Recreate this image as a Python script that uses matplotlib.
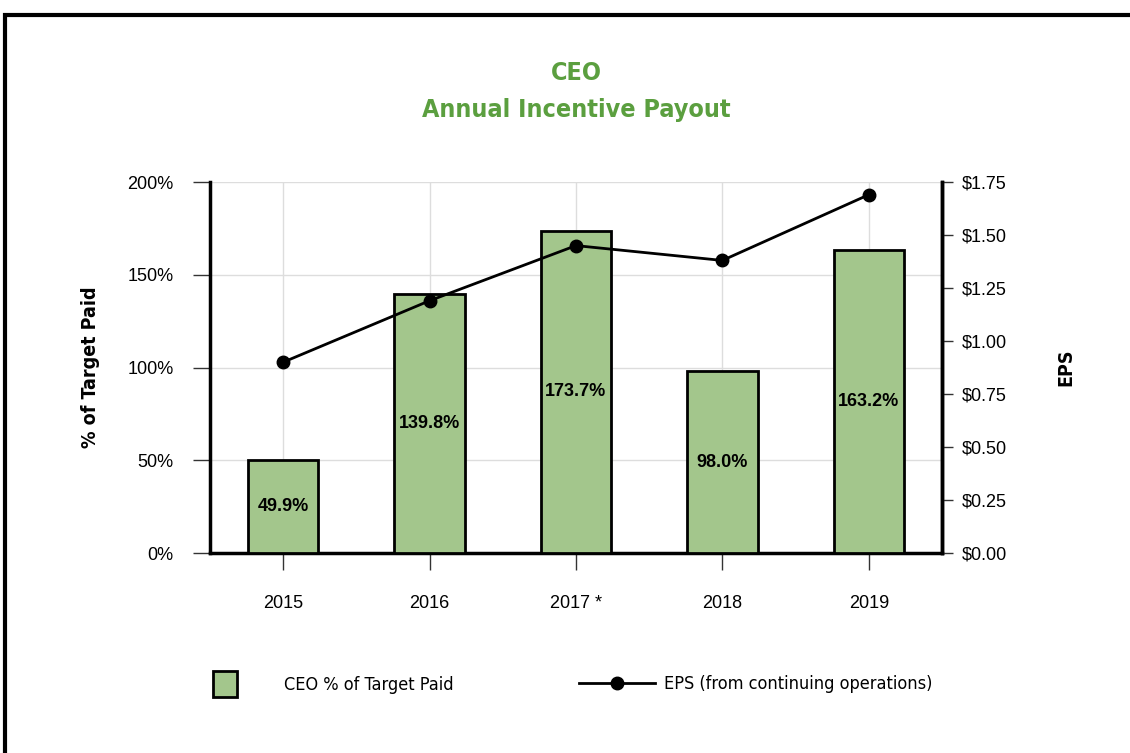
import matplotlib
matplotlib.use("Agg")
import matplotlib.pyplot as plt
from matplotlib.patches import Rectangle, Patch
from matplotlib.lines import Line2D
from matplotlib.ticker import FuncFormatter, MultipleLocator
from matplotlib import font_manager as fm

years = ["2015", "2016", "2017 *", "2018", "2019"]
pct_paid = [49.9, 139.8, 173.7, 98.0, 163.2]
eps = [0.90, 1.19, 1.45, 1.38, 1.69]

green = "#5B9F3F"
bar_green = "#A3C68C"

plt.rcParams["font.family"] = ["Liberation Sans", "DejaVu Sans"]

cond_b = fm.FontProperties(family="DejaVu Sans", stretch="condensed", weight="bold")
cond_r = fm.FontProperties(family="DejaVu Sans", stretch="condensed")

fig = plt.figure(figsize=(11.3, 7.53), dpi=100)
ax = fig.add_axes([0.1858, 0.2656, 0.6478, 0.4927])

x = range(len(years))
ax.bar(x, pct_paid, width=0.48, color=bar_green, edgecolor="black", linewidth=2, zorder=3)
for i, v in enumerate(pct_paid):
    ax.text(i, v / 2, f"{v:.1f}%", ha="center", va="center", fontsize=13,
            fontweight="bold", zorder=5)

ax.set_xlim(-0.5, 4.5)
ax.set_ylim(0, 200)
ax.yaxis.set_major_locator(MultipleLocator(50))
ax.yaxis.set_major_formatter(FuncFormatter(lambda v, p: f"{v:.0f}%"))
ax.set_xticks(list(x))
ax.set_xticklabels(years)
ax.tick_params(axis="x", length=12, width=1, color="#333333", pad=18, labelsize=13)
ax.tick_params(axis="y", length=12, width=1, color="#333333", pad=14, labelsize=13)
ax.grid(True, color="#dddddd", linewidth=1, zorder=0)
ax.set_axisbelow(True)
for s in ["left", "bottom", "right"]:
    ax.spines[s].set_linewidth(2.5)
ax.spines["top"].set_visible(False)
lab = cond_b.copy()
lab.set_size(14)
ax.set_ylabel("% of Target Paid", fontproperties=lab, labelpad=20)

ax2 = ax.twinx()
ax2.plot(x, eps, color="black", linewidth=2, marker="o", markersize=9, zorder=6)
ax2.set_ylim(0, 1.75)
ax2.yaxis.set_major_locator(MultipleLocator(0.25))
ax2.yaxis.set_major_formatter(FuncFormatter(lambda v, p: f"${v:.2f}"))
ax2.tick_params(axis="y", length=8, width=1, color="#333333", pad=6, labelsize=13)
for s in ["left", "bottom", "top"]:
    ax2.spines[s].set_visible(False)
ax2.spines["right"].set_linewidth(2.5)
ax2.set_ylabel("EPS", fontproperties=lab, labelpad=36)

tp = cond_b.copy()
tp.set_size(18)
fig.text(576 / 1130, 1 - 73 / 753, "CEO", ha="center", va="center", color=green,
         fontproperties=tp)
fig.text(576 / 1130, 1 - 110 / 753, "Annual Incentive Payout", ha="center", va="center",
         color=green, fontproperties=tp)

lp = cond_r.copy()
lp.set_size(13)
h1 = Patch(facecolor=bar_green, edgecolor="black", linewidth=2)
fig.legend([h1], ["CEO % of Target Paid"], loc="center left",
           bbox_to_anchor=(197 / 1130, 1 - 684 / 753), frameon=False,
           handlelength=1.3, handleheight=1.8, handletextpad=2.6, prop=lp)
h2 = Line2D([], [], color="black", linewidth=2, marker="o", markersize=9)
fig.legend([h2], ["EPS (from continuing operations)"], loc="center left",
           bbox_to_anchor=(563 / 1130, 1 - 684 / 753), frameon=False,
           handlelength=4.2, handletextpad=0.5, prop=lp)

fig.patches.append(Rectangle((5 / 1130, -0.05), 1.2, 1 - 15 / 753 + 0.05,
                             transform=fig.transFigure, fill=False,
                             edgecolor="black", linewidth=3))

fig.savefig("out.png", dpi=100)
